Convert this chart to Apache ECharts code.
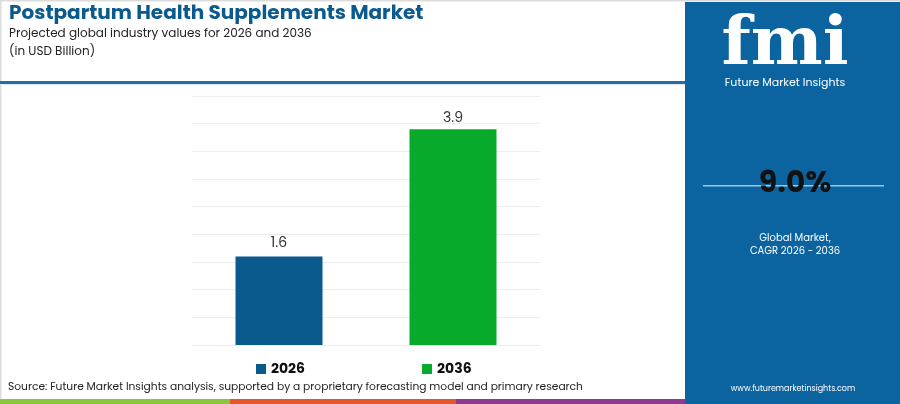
<!DOCTYPE html>
<html><head><meta charset="utf-8">
<script src="https://cdn.jsdelivr.net/npm/echarts@6/dist/echarts.min.js"></script>
<style>html,body{margin:0;padding:0;background:#fff}#c{width:900px;height:404px}</style>
</head><body><div id="c"></div>
<script>
var categories = ['2026', '2036'];
var values2026 = [1.6, '-'];
var values2036 = ['-', 3.9];
var cagrText = '9.0%';
var chart = echarts.init(document.getElementById('c'));
var F = 'Poppins, "Noto Sans", Roboto, sans-serif';
chart.setOption({
  animation: false,
  backgroundColor: '#ffffff',
  grid: {left: 192, right: 360, top: 96, bottom: 59},
  xAxis: {type: 'category', data: categories, axisLine: {show: false}, axisTick: {show: false}, axisLabel: {show: false}},
  yAxis: {type: 'value', min: 0, max: 4.5, interval: 0.5, axisLabel: {show: false}, axisLine: {show: false}, axisTick: {show: false},
    splitLine: {lineStyle: {color: '#ececec', width: 1}}},
  legend: {left: 251, top: 357, itemWidth: 10, itemHeight: 10, itemGap: 117, icon: 'rect',
    textStyle: {fontFamily: F, fontWeight: 'bold', fontSize: 14, color: '#111'},
    data: ['2026', '2036']},
  series: [
    {name: '2026', type: 'bar', stack: 's', barWidth: '50%', data: values2026, itemStyle: {color: '#0b5a8e'},
      label: {show: true, position: 'top', distance: 6, fontFamily: F, fontSize: 14, color: '#333'}},
    {name: '2036', type: 'bar', stack: 's', barWidth: '50%', data: values2036, itemStyle: {color: '#08aa2c'},
      label: {show: true, position: 'top', distance: 4, fontFamily: F, fontSize: 14, color: '#333'}}
  ],
  graphic: [
    {type: 'rect', shape: {x: 0, y: 0, width: 900, height: 1.5}, style: {fill: '#dcdcdc'}},
    {type: 'rect', shape: {x: 0, y: 0, width: 1.5, height: 404}, style: {fill: '#dcdcdc'}},
    {type: 'text', left: 9, top: 4, style: {text: 'Postpartum Health Supplements Market', font: 'bold 20px ' + F, fill: '#0b5a8e'}},
    {type: 'text', left: 9, top: 28, style: {text: 'Projected global industry values for 2026 and 2036', font: '12px ' + F, fill: '#222'}},
    {type: 'text', left: 9, top: 46, style: {text: '(in USD Billion)', font: '12px ' + F, fill: '#222'}},
    {type: 'rect', shape: {x: 0, y: 81, width: 685, height: 3}, style: {fill: '#1f6fad'}},
    {type: 'rect', shape: {x: 0, y: 84, width: 685, height: 1}, style: {fill: '#e6e6e6'}},
    {type: 'text', left: 8, top: 382, style: {text: 'Source: Future Market Insights analysis, supported by a proprietary forecasting model and primary research', font: '10.7px ' + F, fill: '#222'}},
    {type: 'rect', shape: {x: 0, y: 399, width: 230, height: 5}, style: {fill: '#8cc63f'}},
    {type: 'rect', shape: {x: 230, y: 399, width: 226, height: 5}, style: {fill: '#e3572b'}},
    {type: 'rect', shape: {x: 456, y: 399, width: 230, height: 5}, style: {fill: '#8d3a8f'}},
    {type: 'rect', shape: {x: 685, y: 2, width: 215, height: 402}, style: {fill: '#0b64a0'}},
    {type: 'text', x: 785, y: 46, style: {text: 'fmi', font: 'bold 68px "DejaVu Serif", serif', fill: '#ffffff', textAlign: 'center', textVerticalAlign: 'middle'}},
    {type: 'text', x: 785, y: 83, style: {text: 'Future Market Insights', font: '11px ' + F, fill: '#ffffff', textAlign: 'center', textVerticalAlign: 'middle'}},
    {type: 'rect', shape: {x: 703, y: 185, width: 181, height: 1.5}, style: {fill: '#9cc8e6'}},
    {type: 'text', x: 795, y: 184, style: {text: cagrText, font: 'bold 30px ' + F, fill: '#111', textAlign: 'center', textVerticalAlign: 'middle'}},
    {type: 'text', x: 795, y: 238, style: {text: 'Global Market,', font: '10px ' + F, fill: '#ffffff', textAlign: 'center', textVerticalAlign: 'middle'}},
    {type: 'text', x: 795, y: 251, style: {text: 'CAGR 2026 - 2036', font: '10px ' + F, fill: '#ffffff', textAlign: 'center', textVerticalAlign: 'middle'}},
    {type: 'text', x: 793, y: 389, style: {text: 'www.futuremarketinsights.com', font: '8px ' + F, fill: '#ffffff', textAlign: 'center', textVerticalAlign: 'middle'}}
  ]
});
</script></body></html>
